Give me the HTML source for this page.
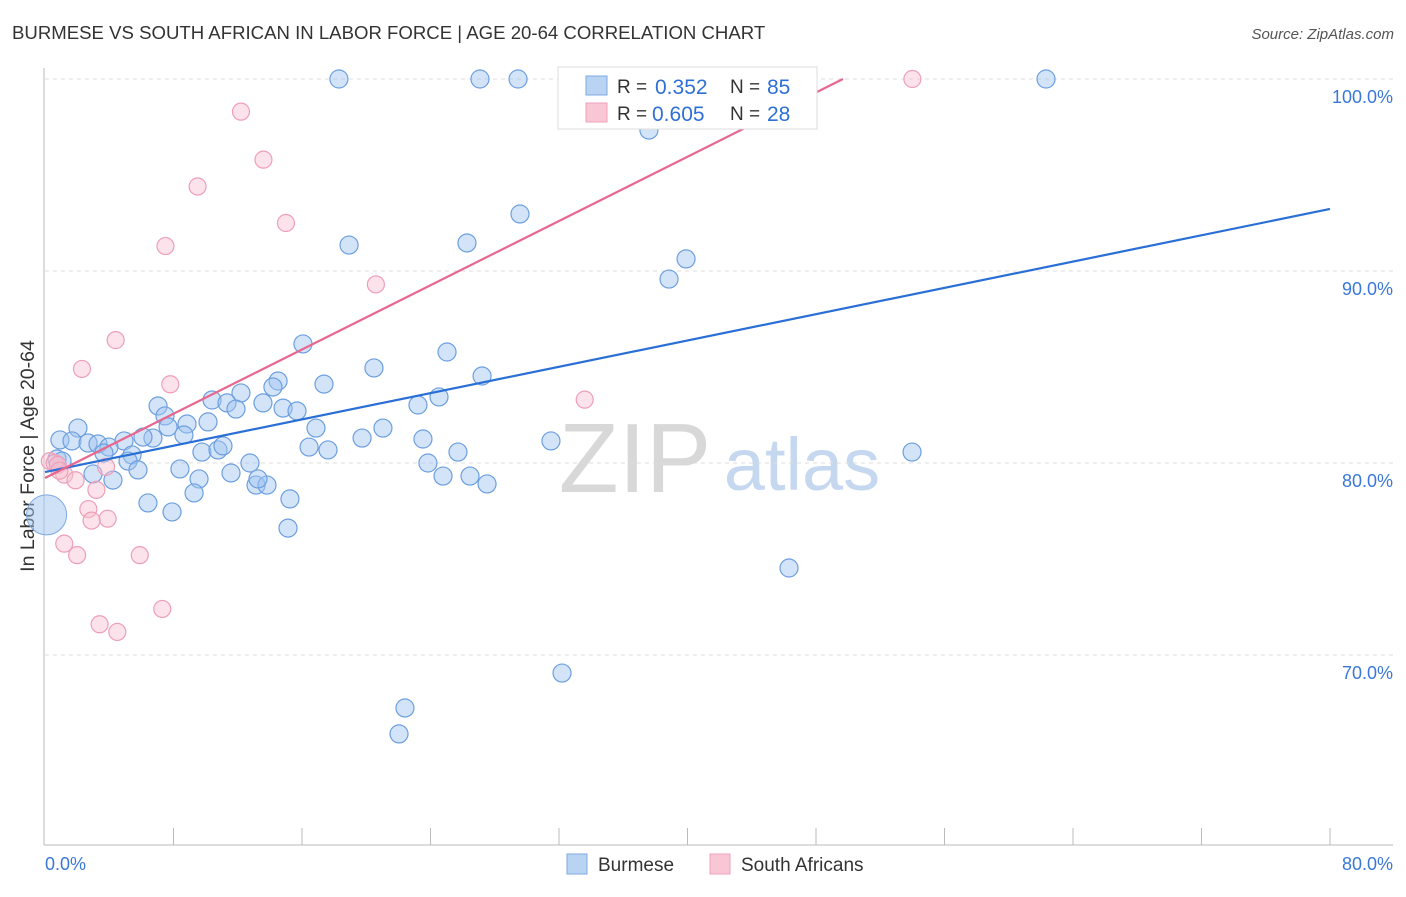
<!DOCTYPE html>
<html><head><meta charset="utf-8"><style>
body{margin:0;background:#fff;font-family:"Liberation Sans",sans-serif;}
svg text{font-family:"Liberation Sans",sans-serif;}
</style></head><body>
<svg id="c" width="1406" height="892">
<text x="12" y="39" font-size="18.6" fill="#333">BURMESE VS SOUTH AFRICAN IN LABOR FORCE | AGE 20-64 CORRELATION CHART</text>
<text x="1394" y="39" font-size="15" fill="#555" font-style="italic" text-anchor="end">Source: ZipAtlas.com</text>
<g><text x="635" y="492" font-size="98" fill="#d8d8d8" font-family="Liberation Serif" text-anchor="middle">ZIP</text><text x="802" y="490" font-size="74" fill="#c6d8f0" text-anchor="middle">atlas</text></g>
<text transform="translate(34,456) rotate(-90)" font-size="19.5" fill="#333" text-anchor="middle">In Labor Force | Age 20-64</text>
<g id="grid"></g><g id="marks"></g>
<g>
<rect x="558" y="67" width="259" height="62" fill="#fff" stroke="#ddd"/>
<rect x="586" y="76" width="21" height="19" fill="#b9d3f3" stroke="#7ea9e3"/>
<rect x="586" y="103" width="21" height="19" fill="#f9c6d5" stroke="#eea0b7"/>
<text x="617" y="93" font-size="19" fill="#333">R =</text><text x="655" y="94" font-size="21" fill="#2f6fd6">0.352</text>
<text x="730" y="93" font-size="19" fill="#333">N =</text><text x="767" y="94" font-size="21" fill="#2f6fd6">85</text>
<text x="617" y="120" font-size="19" fill="#333">R =</text><text x="652" y="121" font-size="21" fill="#2f6fd6">0.605</text>
<text x="730" y="120" font-size="19" fill="#333">N =</text><text x="767" y="121" font-size="21" fill="#2f6fd6">28</text>
</g>
<g>
<rect x="567" y="854" width="20" height="20" fill="#b9d3f3" stroke="#7ea9e3"/>
<text x="598" y="871" font-size="19" fill="#333">Burmese</text>
<rect x="710" y="854" width="20" height="20" fill="#f9c6d5" stroke="#eea0b7"/>
<text x="741" y="871" font-size="19" fill="#333">South Africans</text>
</g>
</svg>
<script>
const yTicks=[100,90,80,70];
const xTickLabels=["0.0%","80.0%"];
const bPx=[[339,79],[480,79],[518,79],[1046,79],[649,130],[520,214],[349,245],[467,243],[686,259],[669,279],[303,344],[447,352],[374,368],[482,376],[278,381],[273,387],[324,384],[241,393],[158,406],[212,400],[227,403],[263,403],[283,408],[297,411],[418,405],[439,397],[236,409],[165,416],[208,422],[187,424],[168,427],[383,428],[316,428],[78,428],[124,441],[153,438],[143,437],[362,438],[423,439],[551,441],[60,440],[72,441],[88,443],[98,444],[109,447],[184,435],[309,447],[328,450],[202,452],[218,450],[223,446],[458,452],[104,453],[132,455],[128,461],[57,459],[62,461],[912,452],[250,463],[428,463],[180,469],[138,470],[231,473],[93,474],[113,480],[199,479],[443,476],[470,476],[256,485],[267,485],[258,479],[487,484],[194,493],[290,499],[148,503],[172,512],[288,528],[789,568],[562,673],[405,708],[399,734]];
const burmeseVals=bPx.map(p=>[+((p[0]-45)/1285*80).toFixed(2),+(100-(p[1]-79)/19.2).toFixed(2)]);
const southX=[54.0,12.2,13.6,9.5,15.0,7.5,20.6,4.4,2.3,7.8,33.6,0.3,0.6,0.8,1.2,1.9,3.2,3.8,2.7,3.9,2.9,1.2,2.0,5.9,7.3,3.4,4.5,0.9];
const southY=[100,98.3,95.8,94.4,92.5,91.3,89.3,86.4,84.9,84.1,83.3,80.1,80.0,79.9,79.4,79.1,78.6,79.8,77.6,77.1,77.0,75.8,75.2,75.2,72.4,71.6,71.2,79.6];
const bigPoint=[0.1,77.3];
const blueLine=[79.53,93.23];
const pinkLine=[79.22,0.4183];
const X=v=>45+v/80*1285, Y=v=>79+(100-v)*19.2;
const NS="http://www.w3.org/2000/svg";
const grid=document.getElementById('grid'),marks=document.getElementById('marks');
function mk(tag,at,par){const e=document.createElementNS(NS,tag);for(const k in at)e.setAttribute(k,at[k]);par.appendChild(e);return e;}
yTicks.forEach(t=>{
 const l=mk('line',{x1:45,x2:1393,y1:Y(t),y2:Y(t),stroke:'#ddd','stroke-dasharray':'4,4'},grid);
 
 
 const tx=mk('text',{x:1393,y:Y(t)+24,'font-size':18,fill:'#3a78d8','text-anchor':'end'},grid);
 tx.textContent=t.toFixed(1)+'%';
 
 
});
mk('line',{x1:44,x2:44,y1:68,y2:845,stroke:'#bbb'},grid);
const xa=mk('line',{x1:44,x2:1393,y1:845,y2:845,stroke:'#bbb'},grid);


for(let k=1;k<=10;k++){mk('line',{x1:45+128.5*k,x2:45+128.5*k,y1:828,y2:845,stroke:'#bbb'},grid);}
[[45,'start',0],[1393,'end',1]].forEach(a=>{const t=mk('text',{x:a[0],y:870,'font-size':18,fill:'#3a78d8','text-anchor':a[1]},grid);t.textContent=xTickLabels[a[2]];
 
 });
let c=mk('circle',{cx:X(bigPoint[0]),cy:Y(bigPoint[1]),r:20,fill:'rgba(160,195,240,0.5)',stroke:'#7ea9e3'},marks);


burmeseVals.forEach(v=>{const e=mk('circle',{cx:X(v[0]),cy:Y(v[1]),r:9,fill:'rgba(160,195,240,0.45)',stroke:'#6c9fe0','stroke-width':1.2},marks);
 
 });
southX.forEach((x,i)=>{const e=mk('circle',{cx:X(x),cy:Y(southY[i]),r:8.5,fill:'rgba(248,190,208,0.45)',stroke:'#ee9fb7','stroke-width':1.2},marks);
 
 });
const bl=mk('line',{x1:X(0),y1:Y(blueLine[0]),x2:X(80),y2:Y(blueLine[1]),stroke:'#2a6fd6','stroke-width':2.2},marks);


const xe=(100-pinkLine[0])/pinkLine[1];
const pl=mk('line',{x1:X(0),y1:Y(pinkLine[0]),x2:X(xe),y2:Y(100),stroke:'#e8678f','stroke-width':2.2},marks);


</script>
</body></html>
